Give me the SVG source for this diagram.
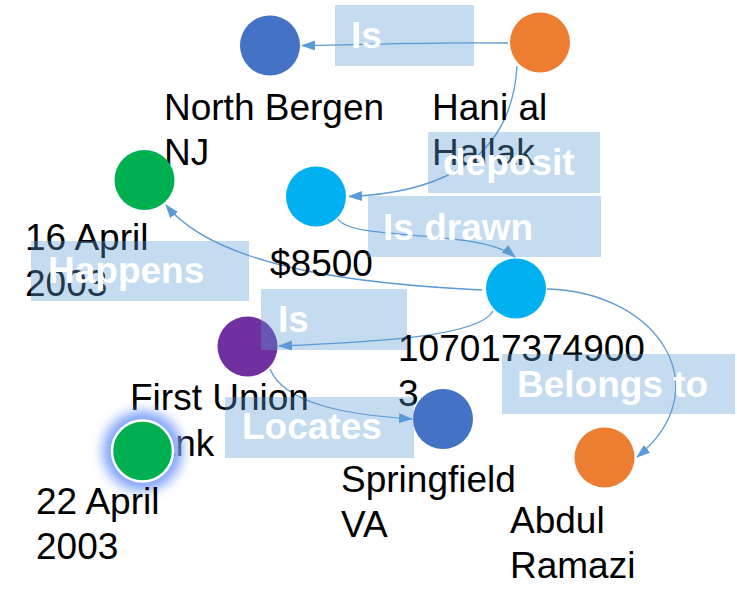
<svg xmlns="http://www.w3.org/2000/svg" width="737" height="610" viewBox="0 0 737 610">
<style>
.lbl{font-family:"Liberation Sans",Arial,sans-serif;font-size:37px;fill:#000}
.elbl{font-family:"Liberation Sans",Arial,sans-serif;font-size:37px;font-weight:bold;fill:#fff}
.box{fill:#5B9BD5;fill-opacity:0.36}
.edge{fill:none;stroke:#5B9BD5;stroke-width:1.3;marker-end:url(#arr)}
</style>
<defs>
<marker id="arr" viewBox="0 0 14 10" refX="13" refY="5" markerWidth="14" markerHeight="10" markerUnits="userSpaceOnUse" orient="auto">
<path d="M0,0 L14,5 L0,10 Z" fill="#5B9BD5"/>
</marker>
<filter id="glow" x="-60%" y="-60%" width="220%" height="220%">
<feGaussianBlur stdDeviation="6"/>
</filter>
</defs>
<g id="connectors">
<path class="edge" d="M508,43 C420,42 360,45 302,45.5"/>
<path class="edge" d="M517,66 Q510,190 349,196.5"/>
<path class="edge" d="M338,219 C352,242 480,228 515,257"/>
<path class="edge" d="M482,290 C380,285 220,272 166,205"/>
<path class="edge" d="M493,311 C480,336 380,342 279,346"/>
<path class="edge" d="M270,369 C285,405 350,415 412,419"/>
<path class="edge" d="M547,289 C660,292 720,390 637,457"/>
</g>
<g id="node-northbergen">
<circle cx="270" cy="45.5" r="30" fill="#4472C4"/>
<text class="lbl" x="164" y="120">North Bergen</text>
<text class="lbl" x="164" y="165">NJ</text>
</g>
<g id="node-hani">
<circle cx="540" cy="42.5" r="30" fill="#ED7D31"/>
<text class="lbl" x="432" y="120">Hani al</text>
<text class="lbl" x="432" y="165">Hallak</text>
</g>
<g id="node-16april">
<circle cx="144.5" cy="180" r="30" fill="#00B050"/>
<text class="lbl" x="25" y="250">16 April</text>
<text class="lbl" x="25" y="296">2003</text>
</g>
<g id="node-8500">
<circle cx="316" cy="196.5" r="30" fill="#00B0F0"/>
<text class="lbl" x="270" y="276">$8500</text>
</g>
<g id="node-account">
<circle cx="516" cy="288.5" r="30" fill="#00B0F0"/>
<text class="lbl" x="398" y="361">107017374900</text>
<text class="lbl" x="398" y="406">3</text>
</g>
<g id="node-firstunion">
<circle cx="247.5" cy="346.5" r="30" fill="#7030A0"/>
<text class="lbl" x="130" y="410">First Union</text>
<text class="lbl" x="130" y="456">Bank</text>
</g>
<g id="node-springfield">
<circle cx="443" cy="419" r="30" fill="#4472C4"/>
<text class="lbl" x="341" y="492">Springfield</text>
<text class="lbl" x="341" y="537">VA</text>
</g>
<g id="node-abdul">
<circle cx="604.5" cy="457.5" r="30" fill="#ED7D31"/>
<text class="lbl" x="510" y="533">Abdul</text>
<text class="lbl" x="510" y="578">Ramazi</text>
</g>
<g id="node-22april">
<circle cx="142.5" cy="451" r="40" fill="#82A4F8" filter="url(#glow)"/>
<circle cx="142.5" cy="451" r="30.5" fill="#00B050" stroke="#fff" stroke-width="2.5"/>
<text class="lbl" x="36" y="514">22 April</text>
<text class="lbl" x="36" y="559">2003</text>
</g>
<g id="edge-labels">
<rect class="box" x="335" y="5" width="139" height="61"/>
<text class="elbl" x="351" y="48">Is</text>
<rect class="box" x="428" y="132" width="172" height="61"/>
<text class="elbl" x="443" y="175">deposit</text>
<rect class="box" x="368" y="196" width="233" height="61"/>
<text class="elbl" x="383" y="240">Is drawn</text>
<rect class="box" x="31" y="241" width="218" height="60"/>
<text class="elbl" x="48" y="283">Happens</text>
<rect class="box" x="261" y="289" width="146" height="61"/>
<text class="elbl" x="278" y="332">Is</text>
<rect class="box" x="502" y="354" width="233" height="60"/>
<text class="elbl" x="517" y="397">Belongs to</text>
<rect class="box" x="225" y="397" width="189" height="61"/>
<text class="elbl" x="242" y="439">Locates</text>
</g>
</svg>
